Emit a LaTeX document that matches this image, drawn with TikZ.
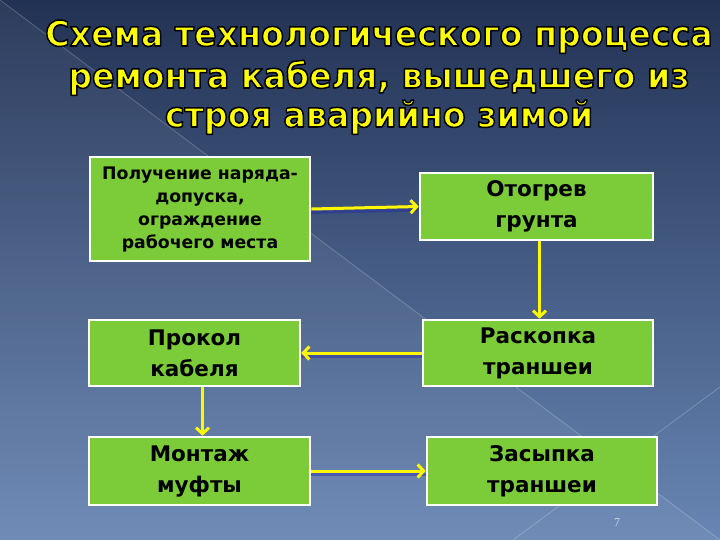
\documentclass[tikz,border=0pt]{standalone}
\usepackage{fontspec}
\setmainfont{DejaVu Sans}
\newfontfamily\numfont{Liberation Serif}
\usetikzlibrary{arrows.meta,calc}
\definecolor{bgtop}{RGB}{34,50,84}
\definecolor{bgmid}{RGB}{54,78,120}
\definecolor{bgbot}{RGB}{104,134,180}
\definecolor{boxgreen}{RGB}{124,204,58}
\definecolor{titleyellow}{RGB}{255,255,0}
\definecolor{arrowyellow}{RGB}{255,248,0}
\definecolor{shadowblue}{RGB}{36,40,170}
\definecolor{pagenum}{RGB}{205,215,232}
\newcommand{\outlinedtext}[1]{\scalebox{0.95}[1]{\special{pdf:literal direct 0 0 0 RG 1.5 w 1 j 2 Tr}#1\special{pdf:literal direct 0 Tr}}}
\begin{document}
\begin{tikzpicture}[x=1pt,y=-1pt,
  box/.style={draw=white, line width=2.6pt, fill=boxgreen, inner sep=0pt, align=center, text=black,
    font=\bfseries\fontsize{21.5}{31}\selectfont},
  smallbox/.style={box, font=\bfseries\fontsize{17.3}{23}\selectfont},
  flow/.style={draw=arrowyellow, line width=3pt, -{Straight Barb[length=6pt,width=13pt]}},
  flowshade/.style={draw=shadowblue, line width=3pt, opacity=0.45, transform canvas={yshift=-3.5pt}},
  titleline/.style={anchor=base, text=titleyellow, font=\bfseries\fontsize{35}{40}\selectfont, inner sep=0pt},
  decoline/.style={draw=white, opacity=0.22, line width=0.8pt}]
\useasboundingbox (0,0) rectangle (720,540);
% background
\shade[top color=bgtop, middle color=bgmid, bottom color=bgbot] (0,0) rectangle (720,540);
\fill[white, opacity=0.05] (0,0) -- (720,540) -- (0,540) -- cycle;
\draw[decoline] (0,0) -- (720,540);
\draw[decoline] (513,540) -- (720,387);
% boxes
\node[smallbox, minimum width=220pt, minimum height=104pt] (b1) at (200,209) {Получение наряда-\\допуска,\\ограждение\\рабочего места};
\node[box, minimum width=233pt, minimum height=67pt] (b2) at (536.5,206.5) {Отогрев\\грунта};
\node[box, minimum width=211pt, minimum height=66pt] (b3) at (194.5,353) {Прокол\\кабеля};
\node[box, minimum width=230pt, minimum height=66pt] (b4) at (538,353) {Раскопка\\траншеи};
\node[box, minimum width=221pt, minimum height=68pt] (b5) at (199.5,471) {Монтаж\\муфты};
\node[box, minimum width=230pt, minimum height=68pt] (b6) at (542,471) {Засыпка\\траншеи};
% connectors
\coordinate (c2) at ($(b2.south)+(3,0)$);
\coordinate (c3) at ($(b3.south)+(8,0)$);
\draw[flowshade] (b1.east) -- (b2.west);
\draw[flowshade] (b4.west) -- (b3.east);
\draw[flowshade] (b5.east) -- (b6.west);
\draw[flow] (b1.east) -- (b2.west);
\draw[flow] (c2) -- (c2 |- b4.north);
\draw[flow] (b4.west) -- (b3.east);
\draw[flow] (c3) -- (c3 |- b5.north);
\draw[flow] (b5.east) -- (b6.west);
% page number
\node[text=pagenum, font=\numfont\fontsize{12}{14}\selectfont] (pg) at (617,523) {7};
% title
\node[titleline] (t1) at (379,46) {\outlinedtext{Схема технологического процесса}};
\node[titleline] (t2) at (379,88) {\outlinedtext{ремонта кабеля, вышедшего из}};
\node[titleline] (t3) at (379,127) {\outlinedtext{строя аварийно зимой}};
\end{tikzpicture}
\end{document}
